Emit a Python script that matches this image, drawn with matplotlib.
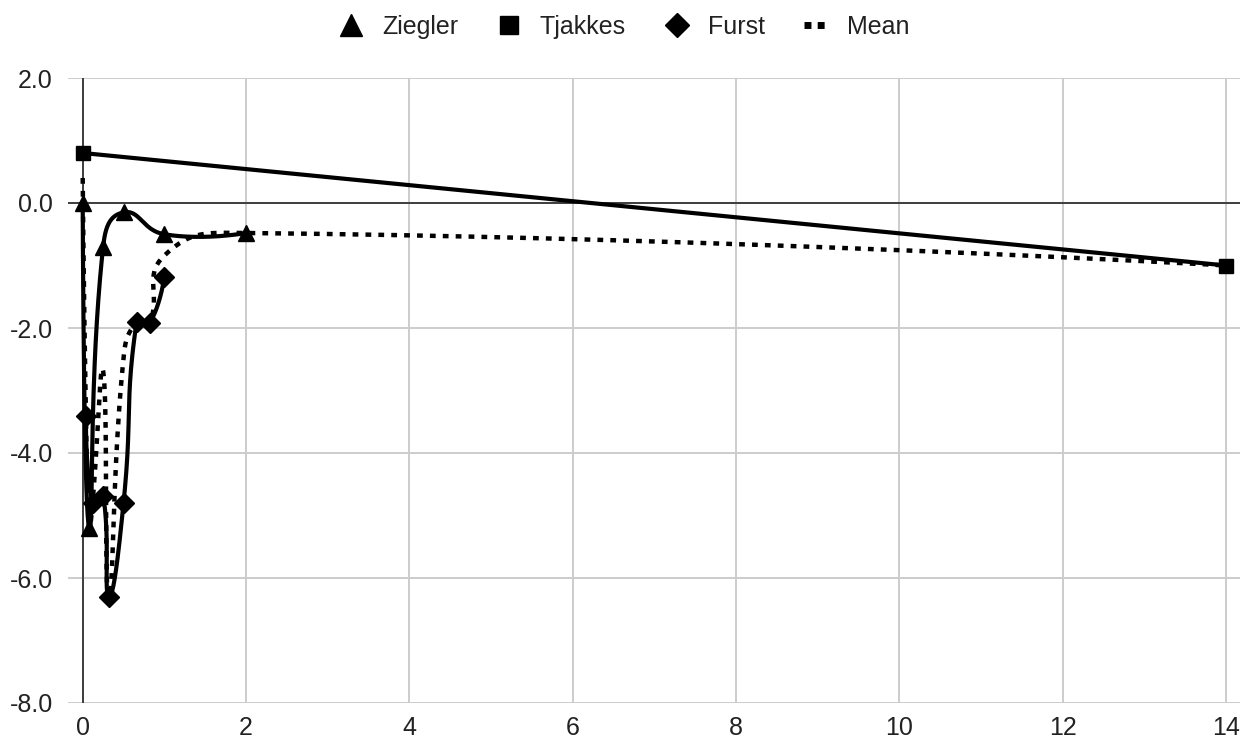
import numpy as np
import matplotlib
matplotlib.use("Agg")
import matplotlib.pyplot as plt
from matplotlib.lines import Line2D

plt.rcParams['font.family'] = ['Liberation Sans', 'DejaVu Sans']

# series values
zieg_x = [0, 0.08, 0.25, 0.5, 1.0, 2.0]
zieg_y = [0, -5.2, -0.7, -0.15, -0.5, -0.48]

tjak_x = [0, 14]
tjak_y = [0.8, -1.0]

furst_x = [0.04, 0.12, 0.25, 0.32, 0.5, 0.66, 0.82, 1.0]
furst_y = [-3.4, -4.8, -4.68, -6.3, -4.8, -1.9, -1.92, -1.18]

mean_x = [0, 0.04, 0.08, 0.12, 0.25, 0.32, 0.5, 0.66, 0.82, 1.0, 2.0, 14]
mean_y = [0.4, -3.4, -5.2, -4.8, -2.69, -6.3, -2.48, -1.9, -1.92, -0.84, -0.48, -1.0]

yticks = [-8, -6, -4, -2, 0, 2]
xticks = [0, 2, 4, 6, 8, 10, 12, 14]


def smooth(ax, xs, ys, t=0.5, n=40):
    # cubic bezier through the points; control points along (next - prev),
    # split by the lengths of the two neighbouring segments (screen space)
    pts = ax.transData.transform(np.column_stack([xs, ys]))
    m = len(pts)
    if m < 3:
        return np.array(xs), np.array(ys)
    cin = pts.copy()
    cout = pts.copy()
    for i in range(1, m - 1):
        d01 = np.linalg.norm(pts[i] - pts[i - 1])
        d12 = np.linalg.norm(pts[i + 1] - pts[i])
        v = pts[i + 1] - pts[i - 1]
        cin[i] = pts[i] - v * t * d01 / (d01 + d12)
        cout[i] = pts[i] + v * t * d12 / (d01 + d12)
    out = [pts[0]]
    u = np.linspace(0, 1, n)[1:, None]
    for i in range(m - 1):
        p0, c1, c2, p1 = pts[i], cout[i], cin[i + 1], pts[i + 1]
        seg = ((1 - u) ** 3 * p0 + 3 * (1 - u) ** 2 * u * c1
               + 3 * (1 - u) * u ** 2 * c2 + u ** 3 * p1)
        out.extend(seg)
    out = ax.transData.inverted().transform(np.array(out))
    return out[:, 0], out[:, 1]


fig = plt.figure(figsize=(12.51, 7.44), dpi=100)
ax = fig.add_axes([68 / 1251, 41 / 744, (1240 - 68) / 1251, (703 - 78) / 744])
ax.set_xlim(-0.18, 14.17)
ax.set_ylim(-8, 2)

for s in ax.spines.values():
    s.set_visible(False)
ax.set_yticks(yticks)
ax.set_yticklabels(['%.1f' % v for v in yticks])
ax.set_xticks(xticks)
ax.tick_params(length=0, labelsize=18, colors='#222222')
ax.tick_params(axis='y', pad=11)
ax.tick_params(axis='x', pad=9.5)
ax.grid(True, color='#cccccc', lw=1.4)
ax.set_axisbelow(True)
ax.axhline(0, color='#333333', lw=1.3, zorder=1)
ax.axvline(0, color='#333333', lw=1.3, zorder=1)

lw = 3.0
mx, my = smooth(ax, mean_x, mean_y)
ax.plot(mx, my, color='black', lw=3.2, linestyle=(0, (1.3, 1.6)), dash_capstyle='butt', zorder=2)

zx, zy = smooth(ax, zieg_x, zieg_y)
ax.plot(zx, zy, color='black', lw=lw, zorder=3)
ax.plot(zieg_x, zieg_y, '^', color='black', ms=12, zorder=4)

ax.plot(tjak_x, tjak_y, color='black', lw=lw, zorder=3)
ax.plot(tjak_x, tjak_y, 's', color='black', ms=10, zorder=4)

fx, fy = smooth(ax, furst_x, furst_y)
ax.plot(fx, fy, color='black', lw=lw, zorder=3)
ax.plot(furst_x, furst_y, 'D', color='black', ms=10, zorder=4)

handles = [
    Line2D([], [], marker='^', color='black', ls='none', ms=15.5),
    Line2D([], [], marker='s', color='black', ls='none', ms=13),
    Line2D([], [], marker='D', color='black', ls='none', ms=12),
    Line2D([], [], color='black', lw=5, ls=(0, (1.0, 0.9)), dash_capstyle='butt'),
]
fig.legend(handles, ['Ziegler', 'Tjakkes', 'Furst', 'Mean'], loc='center',
           bbox_to_anchor=(624 / 1251, 1 - 27 / 744), ncol=4, frameon=False, fontsize=18,
           handlelength=1.0, handletextpad=0.74, columnspacing=1.54, labelcolor='#222222',
           borderpad=0)

fig.savefig('out.png', dpi=100)
